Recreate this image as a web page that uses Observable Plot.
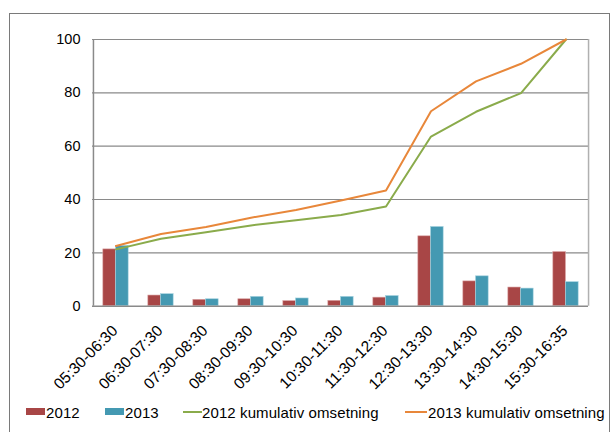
<!DOCTYPE html>
<html>
<head>
<meta charset="utf-8">
<script src="https://cdn.jsdelivr.net/npm/d3@7"></script>
<script src="https://cdn.jsdelivr.net/npm/@observablehq/plot@0.6"></script>
<style>
  html, body { margin: 0; padding: 0; background: #fff; }
  body { width: 614px; height: 432px; position: relative; overflow: hidden; font-family: "Liberation Sans", Arial, Helvetica, sans-serif; }
  #frame { position: absolute; left: 9px; top: 13px; width: 601px; height: 440px; border: 1.5px solid #7a7a7a; box-sizing: border-box; }
  #chart { position: absolute; left: 0; top: 0; }
  .leg { position: absolute; font-size: 15px; letter-spacing: 0.1px; color: #000; line-height: 1; white-space: nowrap; }
  .sw { position: absolute; }
</style>
</head>
<body>
<div id="frame"></div>
<div id="chart"></div>
<div id="legend"></div>
<script>
const categories = ["05:30-06:30","06:30-07:30","07:30-08:30","08:30-09:30","09:30-10:30","10:30-11:30","11:30-12:30","12:30-13:30","13:30-14:30","14:30-15:30","15:30-16:35"];
const values2012 = [21.3, 4.0, 2.4, 2.6, 1.9, 2.0, 3.2, 26.2, 9.3, 7.0, 20.3];
const values2013 = [22.6, 4.5, 2.6, 3.5, 2.9, 3.5, 3.8, 29.7, 11.2, 6.6, 9.0];
const cumulative2012 = [21.3, 25.3, 27.7, 30.3, 32.2, 34.2, 37.4, 63.6, 72.9, 79.9, 100];
const cumulative2013 = [22.6, 27.1, 29.7, 33.2, 36.1, 39.6, 43.4, 73.1, 84.3, 90.9, 100];
const yTicks = [0, 20, 40, 60, 80, 100];
const seriesNames = ["2012", "2013", "2012 kumulativ omsetning", "2013 kumulativ omsetning"];
const colors = ["#a84646", "#4499b2", "#8aab4b", "#e8873a"];

const bars12 = categories.map((c, i) => ({category: c, value: values2012[i]}));
const bars13 = categories.map((c, i) => ({category: c, value: values2013[i]}));
const cum12 = categories.map((c, i) => ({category: c, value: cumulative2012[i]}));
const cum13 = categories.map((c, i) => ({category: c, value: cumulative2013[i]}));

const chart = Plot.plot({
  width: 614,
  height: 395,
  marginLeft: 92,
  marginRight: 26,
  marginTop: 39,
  marginBottom: 89.3,
  x: {domain: categories, padding: 0, label: null},
  y: {domain: [0, 100], label: null},
  style: {fontFamily: "'Liberation Sans', Arial, sans-serif", fontSize: "14.5px", color: "#000", background: "transparent"},
  marks: [
    Plot.gridY(yTicks.filter(d => d > 0), {stroke: "#8a8a8a", strokeOpacity: 1, strokeWidth: 1.2}),
    Plot.barY(bars12, {x: "category", y: "value", fill: colors[0], insetLeft: 16.2, insetRight: 16.2, dx: -6.35, stroke: "#d9a3a3", strokeWidth: 0.6}),
    Plot.barY(bars13, {x: "category", y: "value", fill: colors[1], insetLeft: 16.2, insetRight: 16.2, dx: 6.35, stroke: "#a3d1de", strokeWidth: 0.6}),
    Plot.ruleY([0], {stroke: "#8a8a8a", strokeWidth: 1.5}),
    Plot.ruleX([categories[0]], {stroke: "#8a8a8a", strokeWidth: 1.5, dx: -22.55}),
    Plot.ruleX([categories[categories.length - 1]], {stroke: "#b0b0b0", strokeWidth: 1.5, dx: 22.55}),
    Plot.lineY(cum12, {x: "category", y: "value", stroke: colors[2], strokeWidth: 2}),
    Plot.lineY(cum13, {x: "category", y: "value", stroke: colors[3], strokeWidth: 2}),
    Plot.axisY({ticks: yTicks, tickSize: 0, tickPadding: 12, fontSize: 14.5, label: null}),
    Plot.axisX({tickRotate: -45, tickSize: 0, tickPadding: 22, dx: -1, fontSize: 15.5, textAnchor: "end", label: null})
  ]
});
document.getElementById("chart").appendChild(chart);

const legend = document.getElementById("legend");
const items = [
  {type: "rect", x0: 26, x1: 45, tx: 46},
  {type: "rect", x0: 105, x1: 124, tx: 125},
  {type: "line", x0: 183, x1: 202, tx: 202},
  {type: "line", x0: 405, x1: 427, tx: 428}
];
items.forEach((it, i) => {
  const sw = document.createElement("div");
  sw.className = "sw";
  sw.style.left = it.x0 + "px";
  sw.style.width = (it.x1 - it.x0) + "px";
  sw.style.background = colors[i];
  if (it.type === "rect") { sw.style.top = "408px"; sw.style.height = "7px"; }
  else { sw.style.top = "411px"; sw.style.height = "2px"; }
  legend.appendChild(sw);
  const t = document.createElement("div");
  t.className = "leg";
  t.style.left = it.tx + "px";
  t.style.top = "405px";
  t.textContent = seriesNames[i];
  legend.appendChild(t);
});
</script>
</body>
</html>
